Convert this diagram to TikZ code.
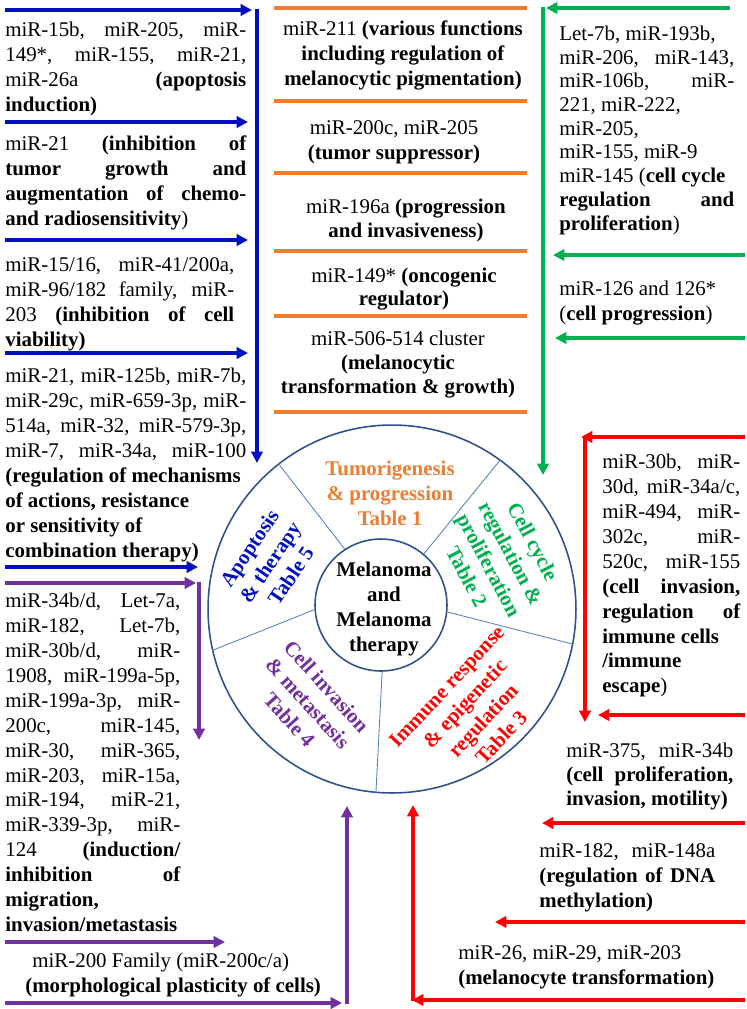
\documentclass[tikz,border=0pt]{standalone}
\usepackage{fontspec}
\setmainfont{Liberation Serif}
\usetikzlibrary{arrows.meta}
\definecolor{apoblue}{RGB}{0,16,192}
\definecolor{tumorange}{RGB}{237,125,49}
\definecolor{cyclegreen}{RGB}{0,176,80}
\definecolor{immunered}{RGB}{255,0,0}
\definecolor{invpurple}{RGB}{112,48,160}
\definecolor{ringblue}{RGB}{47,82,143}
\definecolor{spokeblue}{RGB}{91,130,200}
\hbadness=10000
\tolerance=10000
\tikzset{
  busarrow/.style={line width=1.8pt,-{Triangle[length=6.5pt,width=6.5pt]}},
  tabrule/.style={draw=tumorange,line width=2pt},
  mirlist/.style={inner sep=0pt,anchor=north west,align=justify,font=\fontsize{11.9}{#1}\selectfont},
  mirlist/.default=14.2,
  mirctr/.style={inner sep=0pt,anchor=north,align=center,font=\fontsize{11.9}{#1}\selectfont},
  mirctr/.default=14.2,
  segtext/.style={inner sep=0pt,align=center,font=\fontsize{11.9}{14.2}\selectfont\bfseries},
  ringline/.style={circle,draw=ringblue,line width=0.9pt,inner sep=0pt}
}
\begin{document}
\begin{tikzpicture}[x=0.02cm,y=-0.02cm]
\useasboundingbox (0,0) rectangle (747,1009);
\node[ringline,minimum size=7.36cm] (ring) at (392,609) {};
\node[ringline,minimum size=2.64cm] (core) at (381,605) {};
\foreach \a/\b in {123/128,50/54,-6/-11,-89/-95,184/193}
  \draw[spokeblue,line width=0.5pt] (core.\a) -- (ring.\b);
\node[segtext] (melanoma) at (384,609) {Melanoma\\and\\Melanoma\\therapy};
\node[segtext,text=tumorange] (tumor) at (390,493) {Tumorigenesis\\\& progression\\Table 1};
\node[segtext,text=cyclegreen,rotate=-62] (cycle) at (500,559) {Cell cycle\\regulation \&\\proliferation\\Table 2};
\node[segtext,text=immunered,rotate=47] (immune) at (474,712) {Immune response\\\& epigenetic\\regulation\\Table 3};
\node[segtext,text=invpurple,rotate=-48] (invasion) at (308,703) {Cell invasion\\\& metastasis\\Table 4};
\node[segtext,text=apoblue,rotate=56] (apoptosis) at (270,562) {Apoptosis\\\& therapy\\Table 5};

\draw[busarrow,apoblue] (5,10) -- (252,10);
\draw[busarrow,apoblue] (257,8.5) -- (257,463);
\foreach \y in {122,240,353}
  \draw[busarrow,apoblue] (5,\y) -- (248,\y);
\draw[busarrow,apoblue] (5,567) -- (198,567);
\node[mirlist,text width=4.82cm] (apo1) at (5,21.5) {miR-15b, miR-205, miR-\linebreak 149*, miR-155, miR-21,\linebreak miR-26a \textbf{(apoptosis\linebreak induction)}};
\node[mirlist,text width=4.82cm] (apo2) at (5,135.5) {miR-21 \textbf{(inhibition of\linebreak tumor growth and\linebreak augmentation of chemo-\linebreak and radiosensitivity})};
\node[mirlist,text width=4.58cm] (apo3) at (5,257.5) {miR-15/16, miR-41/200a,\linebreak miR-96/182 family, miR-\linebreak 203 \textbf{(inhibition of cell\linebreak viability)}};
\node[mirlist,text width=4.82cm] (apo4) at (5,367.5) {miR-21, miR-125b, miR-7b,\linebreak miR-29c, miR-659-3p, miR-\linebreak 514a, miR-32, miR-579-3p,\linebreak miR-7, miR-34a, miR-100\linebreak \textbf{(regulation of mechanisms}\\\textbf{of actions, resistance}\\\textbf{or sensitivity of}\\\textbf{combination therapy)}};

\foreach \y in {8,101,173,251,316,412}
  \draw[tabrule] (274,\y) -- (527,\y);
\node[mirctr] (tum1) at (403,20.5) {miR-211 \textbf{(various functions}\\\textbf{including regulation of}\\\textbf{melanocytic pigmentation)}};
\node[mirctr] (tum2) at (394,120.5) {miR-200c, miR-205\\\textbf{(tumor suppressor)}};
\node[mirctr=13.7] (tum3) at (406,198.5) {miR-196a \textbf{(progression}\\\textbf{and invasiveness)}};
\node[mirctr=13.2] (tum4) at (404,267.5) {miR-149* \textbf{(oncogenic}\\\textbf{regulator)}};
\node[mirctr=13.7] (tum5) at (398,330.5) {miR-506-514 cluster\\\textbf{(melanocytic}\\\textbf{transformation \& growth)}};

\draw[busarrow,cyclegreen] (730,8) -- (546,8);
\draw[busarrow,cyclegreen] (543,7) -- (543,475);
\draw[busarrow,cyclegreen] (745,255) -- (553,255);
\draw[busarrow,cyclegreen] (745,338) -- (555,338);
\node[mirlist=13.5,text width=3.5cm] (cyc1) at (559,25.5) {Let-7b, miR-193b,\\miR-206, miR-143,\linebreak miR-106b, miR-\linebreak 221, miR-222,\\miR-205,\\miR-155, miR-9\\miR-145 (\textbf{cell cycle}\\\textbf{regulation and}\linebreak \textbf{proliferation})};
\node[mirlist,text width=3.5cm] (cyc2) at (559,280.5) {miR-126 and 126*\\(\textbf{cell progression})};

\draw[busarrow,immunered] (745,437) -- (581,437);
\draw[busarrow,immunered] (585,436) -- (585,722);
\foreach \y/\x in {715/598,823/542,922/495,1000/412}
  \draw[busarrow,immunered] (745,\y) -- (\x,\y);
\draw[busarrow,immunered] (413,1001) -- (413,805);
\node[mirlist,text width=2.76cm] (imm1) at (602,453.5) {miR-30b, miR-\linebreak 30d, miR-34a/c,\linebreak miR-494, miR-\linebreak 302c, miR-\linebreak 520c, miR-155\linebreak \textbf{(cell invasion,\linebreak regulation of\linebreak immune cells}\\\textbf{/immune}\\\textbf{escape})};
\node[mirlist=13.7,text width=3.34cm] (imm2) at (566,742.5) {miR-375, miR-34b\linebreak \textbf{(cell proliferation,}\linebreak \textbf{invasion, motility)}};
\node[mirlist,text width=3.52cm] (imm3) at (539,843.5) {miR-182, miR-148a\linebreak \textbf{(regulation of DNA}\linebreak \textbf{methylation)}};
\node[mirlist,align=left] (imm4) at (458,945.5) {miR-26, miR-29, miR-203\\\textbf{(melanocyte transformation)}};

\draw[busarrow,invpurple] (5,583) -- (196,583);
\draw[busarrow,invpurple] (199,582) -- (199,740);
\draw[busarrow,invpurple] (5,942) -- (225,942);
\draw[busarrow,invpurple] (5,1003) -- (342,1003);
\draw[busarrow,invpurple] (347,1004) -- (347,806);
\node[mirlist,text width=3.5cm] (inv1) at (5,592.5) {miR-34b/d, Let-7a,\linebreak miR-182, Let-7b,\linebreak miR-30b/d, miR-\linebreak 1908, miR-199a-5p,\linebreak miR-199a-3p, miR-\linebreak 200c, miR-145,\linebreak miR-30, miR-365,\linebreak miR-203, miR-15a,\linebreak miR-194, miR-21,\linebreak miR-339-3p, miR-\linebreak 124 \textbf{(induction/\linebreak inhibition of\linebreak migration,}\\\textbf{invasion/metastasis}};
\node[mirlist,align=left] (inv2) at (25,952.5) {\hspace*{0.14cm}miR-200 Family (miR-200c/a)\\\textbf{(morphological plasticity of cells)}};
\end{tikzpicture}
\end{document}
